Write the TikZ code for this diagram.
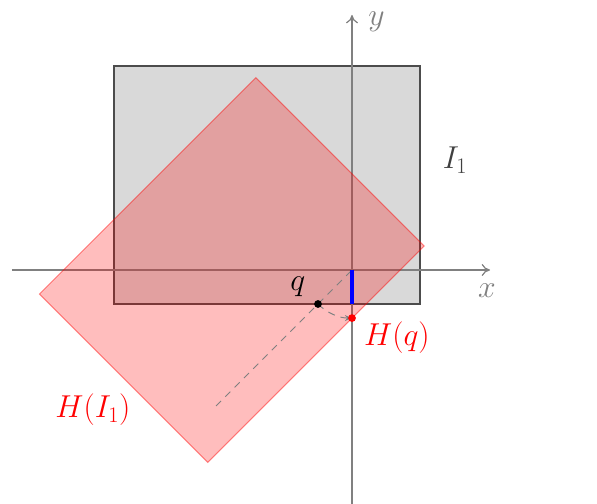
\RequirePackage{fix-cm}
\documentclass[tikz,border=0pt]{standalone}
\usetikzlibrary{arrows.meta}
\begin{document}
\begin{tikzpicture}[x=1cm,y=1cm,
  axis/.style={draw=gray, line width=1pt, -{To[length=7pt,width=10pt]}},
  lbl/.style={font=\fontsize{26.5}{30}\selectfont, inner sep=0pt},
  guide/.style={draw=gray, line width=0.8pt, dash pattern=on 6pt off 5pt},
  dot/.style={circle, inner sep=0pt, minimum size=6.5pt}]
\useasboundingbox (-10.353,-6.882) rectangle (7.206,7.941);
% original set I1
\filldraw[fill=black!15, draw=black!70, line width=1.2pt] (-7,-1) rectangle (2,6);
% axes
\coordinate (O) at (0,0);
\coordinate (xs) at (-10,0);
\coordinate (xe) at (4.06,0);
\coordinate (ys) at (0,-6.9);
\coordinate (ye) at (0,7.5);
\draw[axis] (xs) -- (xe);
\draw[axis] (ys) -- (ye);
% rotated set H(I1)
\filldraw[fill=red, fill opacity=0.26, draw=red, draw opacity=0.45, line width=0.8pt]
  [rotate=45] (-7,-1) rectangle (2,6);
% points
\coordinate (q) at (-1,-1);
\coordinate (Hq) at (0,-1.4142);
\coordinate (c) at (-4,-4);
\coordinate (qb) at (0,-1);
\draw[guide] (c) -- (O);
\draw[guide, -{Stealth[length=6pt,width=5pt]}] (q) arc[start angle=225, end angle=270, radius=1.4142];
\draw[blue, line width=3pt] (O) -- (qb);
\node[dot, fill=black] (qd) at (q) {};
\node[dot, fill=red] (Hqd) at (Hq) {};
% labels
\node[lbl, text=gray] (xl) at (3.97,-0.6) {$x$};
\node[lbl, text=gray] (yl) at (0.72,7.3) {$y$};
\node[lbl, text=black!75] (I1l) at (3.03,3.24) {$I_1$};
\node[lbl, text=red] (HIl) at (-7.62,-4.12) {$H(I_1)$};
\node[lbl, text=red] (Hql) at (1.32,-2.0) {$H(q)$};
\node[lbl, text=black] (ql) at (-1.59,-0.5) {$q$};
\end{tikzpicture}
\end{document}
